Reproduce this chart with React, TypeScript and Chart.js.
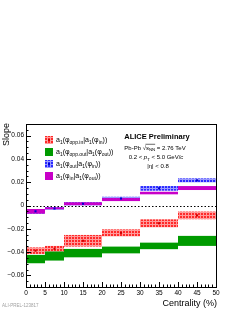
import React, { useEffect, useRef } from "react";
import { Chart, registerables } from "chart.js";
Chart.register(...registerables);

// Centrality bins (%)
const binLow = [0, 5, 10, 20, 30, 40];
const binHigh = [5, 10, 20, 30, 40, 50];
const binCenter = [2.5, 7.5, 15, 25, 35, 45];

// a1(phi_opp.in | a1(phi_in))  (red, hatched)
const redVal = [-0.0388, -0.0372, -0.0303, -0.0235, -0.0153, -0.0085];
const redSys = [0.0028, 0.0025, 0.005, 0.003, 0.0034, 0.0033];
// a1(phi_opp.out | a1(phi_out))  (green)
const greenVal = [-0.046, -0.0434, -0.0409, -0.0382, -0.0347, -0.0304];
const greenSys = [0.0036, 0.0039, 0.0036, 0.0029, 0.0028, 0.0043];
// a1(phi_out | a1(phi_in))  (blue, hatched)
const blueVal = [-0.005, -0.0026, 0.0015, 0.006, 0.0147, 0.0216];
const blueSys = [0.002, 0.0012, 0.0013, 0.0015, 0.002, 0.0017];
// a1(phi_in | a1(phi_out))  (magenta)
const magVal = [-0.005, -0.0024, 0.0015, 0.0051, 0.0107, 0.015];
const magSys = [0.002, 0.0008, 0.0012, 0.0013, 0.0011, 0.0017];

const FONT = "'Liberation Sans', Arial, Helvetica, sans-serif";

type Seg = { t: string; sub?: boolean; it?: boolean; bold?: boolean; ov?: boolean };

function fontFor(s: Seg, size: number) {
  const sz = s.sub ? size * 0.72 : size;
  return `${s.it ? "italic " : ""}${s.bold ? "bold " : ""}${sz}px ${FONT}`;
}

function drawRich(ctx: CanvasRenderingContext2D, segs: Seg[], x: number, y: number, size: number, align: "left" | "center" | "right") {
  ctx.save();
  ctx.textBaseline = "middle";
  ctx.textAlign = "left";
  let w = 0;
  for (const s of segs) {
    ctx.font = fontFor(s, size);
    w += ctx.measureText(s.t).width;
  }
  let cx = align === "center" ? x - w / 2 : align === "right" ? x - w : x;
  let ovStart = -1;
  let ovEnd = -1;
  for (const s of segs) {
    ctx.font = fontFor(s, size);
    const tw = ctx.measureText(s.t).width;
    ctx.fillText(s.t, cx, s.sub ? y + size * 0.32 : y);
    if (s.ov) {
      if (ovStart < 0) ovStart = cx;
      ovEnd = cx + tw;
    }
    cx += tw;
  }
  if (ovStart >= 0) {
    ctx.beginPath();
    ctx.lineWidth = 0.6;
    ctx.moveTo(ovStart - 0.5, y - size * 0.62);
    ctx.lineTo(ovEnd, y - size * 0.62);
    ctx.strokeStyle = ctx.fillStyle as string;
    ctx.stroke();
  }
  ctx.restore();
}

function makePattern(ctx: CanvasRenderingContext2D, dark: string, light: string) {
  const c = document.createElement("canvas");
  c.width = 3;
  c.height = 3;
  const p = c.getContext("2d")!;
  p.fillStyle = dark;
  p.fillRect(0, 0, 3, 3);
  p.fillStyle = light;
  p.fillRect(2, 0, 1, 3);
  p.fillRect(0, 2, 3, 1);
  return ctx.createPattern(c, "repeat")!;
}

const legendLabels: Seg[][] = [
  [{ t: "a" }, { t: "1", sub: true }, { t: "(φ" }, { t: "opp.in", sub: true }, { t: "|a" }, { t: "1", sub: true }, { t: "(φ" }, { t: "in", sub: true }, { t: "))" }],
  [{ t: "a" }, { t: "1", sub: true }, { t: "(φ" }, { t: "opp.out", sub: true }, { t: "|a" }, { t: "1", sub: true }, { t: "(φ" }, { t: "out", sub: true }, { t: "))" }],
  [{ t: "a" }, { t: "1", sub: true }, { t: "(φ" }, { t: "out", sub: true }, { t: "|a" }, { t: "1", sub: true }, { t: "(φ" }, { t: "in", sub: true }, { t: "))" }],
  [{ t: "a" }, { t: "1", sub: true }, { t: "(φ" }, { t: "in", sub: true }, { t: "|a" }, { t: "1", sub: true }, { t: "(φ" }, { t: "out", sub: true }, { t: "))" }],
];

export default function App() {
  const ref = useRef<HTMLCanvasElement | null>(null);
  useEffect(() => {
    document.body.style.margin = "0";
    const canvas = ref.current!;
    const ctx0 = canvas.getContext("2d")!;
    const redPat = makePattern(ctx0, "#ff2a2a", "#ff9a9a");
    const bluePat = makePattern(ctx0, "#2a2aff", "#9a9aff");
    const GREEN = "#009a00";
    const MAG = "#c800c8";

    const series = [
      { val: redVal, sys: redSys, fill: redPat as any },
      { val: greenVal, sys: greenSys, fill: GREEN as any },
      { val: blueVal, sys: blueSys, fill: bluePat as any },
      { val: magVal, sys: magSys, fill: MAG as any },
    ];

    const boxPlugin = {
      id: "boxes",
      beforeDatasetsDraw(chart: any) {
        const ctx = chart.ctx as CanvasRenderingContext2D;
        const xs = chart.scales.x;
        const ys = chart.scales.y;
        const a = chart.chartArea;
        ctx.save();
        ctx.beginPath();
        ctx.rect(a.left, a.top, a.right - a.left, a.bottom - a.top);
        ctx.clip();
        // zero line
        ctx.beginPath();
        ctx.setLineDash([1.5, 2]);
        ctx.strokeStyle = "#000";
        ctx.lineWidth = 1;
        const y0 = Math.round(ys.getPixelForValue(0)) + 0.5;
        ctx.moveTo(a.left, y0);
        ctx.lineTo(a.right, y0);
        ctx.stroke();
        ctx.setLineDash([]);
        for (const s of series) {
          for (let i = 0; i < binLow.length; i++) {
            const x1 = xs.getPixelForValue(binLow[i]);
            const x2 = xs.getPixelForValue(binHigh[i]);
            const yt = ys.getPixelForValue(s.val[i] + s.sys[i]);
            const yb = ys.getPixelForValue(s.val[i] - s.sys[i]);
            ctx.fillStyle = s.fill;
            ctx.fillRect(x1, yt, x2 - x1, yb - yt);
          }
        }
        ctx.restore();
      },
      afterDraw(chart: any) {
        const ctx = chart.ctx as CanvasRenderingContext2D;
        const xs = chart.scales.x;
        const ys = chart.scales.y;
        const a = chart.chartArea;
        ctx.save();
        // frame
        ctx.strokeStyle = "#000";
        ctx.lineWidth = 1;
        ctx.strokeRect(Math.round(a.left) + 0.5, Math.round(a.top) + 0.5, Math.round(a.right - a.left), Math.round(a.bottom - a.top));
        // ticks
        ctx.beginPath();
        for (const t of xs.ticks) {
          const px = Math.round(xs.getPixelForValue(t.value)) + 0.5;
          const len = Math.round(t.value) % 5 === 0 ? 5 : 2.5;
          ctx.moveTo(px, a.bottom);
          ctx.lineTo(px, a.bottom - len);
        }
        for (const t of ys.ticks) {
          const py = Math.round(ys.getPixelForValue(t.value)) + 0.5;
          const m = Math.round(t.value * 1000);
          const len = m % 20 === 0 ? 5 : 2.5;
          ctx.moveTo(a.left, py);
          ctx.lineTo(a.left + len, py);
        }
        ctx.stroke();

        // axis titles
        ctx.fillStyle = "#000";
        ctx.font = `9px ${FONT}`;
        ctx.textBaseline = "middle";
        ctx.textAlign = "right";
        ctx.fillText("Centrality (%)", a.right + 1, 304);
        ctx.save();
        ctx.translate(7, a.top - 1);
        ctx.rotate(-Math.PI / 2);
        ctx.textAlign = "right";
        ctx.fillText("Slope", 0, 0);
        ctx.restore();

        // legend
        const fills = [redPat, GREEN, bluePat, MAG];
        const marks = ["#d00000", null, "#0000d0", null];
        const rowY = [140, 152, 164, 176];
        for (let i = 0; i < 4; i++) {
          ctx.fillStyle = fills[i] as any;
          ctx.fillRect(45, rowY[i] - 4, 8, 8);
          if (marks[i]) {
            ctx.fillStyle = marks[i] as string;
            ctx.fillRect(48, rowY[i] - 1, 2, 2);
          }
          ctx.fillStyle = "#000";
          drawRich(ctx, legendLabels[i], 56, rowY[i], 7, "left");
        }

        // ALICE text
        ctx.fillStyle = "#000";
        drawRich(ctx, [{ t: "ALICE Preliminary", bold: true }], 157, 137, 7.5, "center");
        drawRich(ctx, [{ t: "Pb-Pb " }, { t: "√" }, { t: "s", it: true, ov: true }, { t: "NN", sub: true, ov: true }, { t: " = 2.76 TeV" }], 155, 148, 6, "center");
        drawRich(ctx, [{ t: "0.2 < " }, { t: "p", it: true }, { t: "T", sub: true }, { t: " < 5.0 GeV/" }, { t: "c", it: true }], 156, 157.5, 6, "center");
        drawRich(ctx, [{ t: "|η| < 0.8" }], 158, 166.5, 6, "center");

        // preliminary id
        ctx.fillStyle = "#a0a0a0";
        ctx.font = `4.5px ${FONT}`;
        ctx.textAlign = "left";
        ctx.fillText("ALI-PREL-123817", 2, 306);
        ctx.restore();
      },
    };

    const chart = new Chart(canvas, {
      type: "scatter",
      data: {
        datasets: [
          {
            data: binCenter.map((x, i) => ({ x, y: redVal[i] })),
            pointStyle: "rect",
            pointRadius: 1.5,
            backgroundColor: "#d00000",
            borderColor: "#d00000",
            borderWidth: 0,
          },
          {
            data: binCenter.map((x, i) => ({ x, y: blueVal[i] })),
            pointStyle: "rect",
            pointRadius: 1.5,
            backgroundColor: "#0000d0",
            borderColor: "#0000d0",
            borderWidth: 0,
          },
        ],
      },
      options: {
        animation: false,
        responsive: false,
        maintainAspectRatio: false,
        devicePixelRatio: 1,
        layout: { padding: { left: 0, right: 25, top: 124, bottom: 0 } },
        plugins: { legend: { display: false }, tooltip: { enabled: false } },
        events: [],
        scales: {
          x: {
            type: "linear",
            min: 0,
            max: 50,
            grid: { display: false, drawTicks: false },
            border: { display: false },
            afterFit: (s: any) => {
              s.height = 25;
            },
            ticks: {
              stepSize: 1,
              autoSkip: false,
              maxRotation: 0,
              maxTicksLimit: 100,
              padding: 2,
              color: "#000",
              font: { size: 6.5, family: FONT },
              callback: (v: any) => (Math.round(Number(v)) % 5 === 0 ? String(Math.round(Number(v))) : ""),
            },
          },
          y: {
            type: "linear",
            min: -0.07,
            max: 0.07,
            grid: { display: false, drawTicks: false },
            border: { display: false },
            afterFit: (s: any) => {
              s.width = 26;
            },
            ticks: {
              stepSize: 0.005,
              autoSkip: false,
              maxTicksLimit: 100,
              padding: 2,
              color: "#000",
              font: { size: 6.5, family: FONT },
              callback: (v: any) => {
                const m = Math.round(Number(v) * 1000);
                if (m % 20 !== 0) return "";
                if (m === 0) return "0";
                return (m < 0 ? "\u2212" : "") + (Math.abs(m) / 1000).toFixed(2);
              },
            },
          },
        },
      } as any,
      plugins: [boxPlugin],
    });
    return () => chart.destroy();
  }, []);

  return (
    <div style={{ position: "absolute", left: 0, top: 0, width: 241, height: 312, background: "#fff" }}>
      <canvas ref={ref} width={241} height={312} style={{ display: "block", width: 241, height: 312 }} />
    </div>
  );
}
